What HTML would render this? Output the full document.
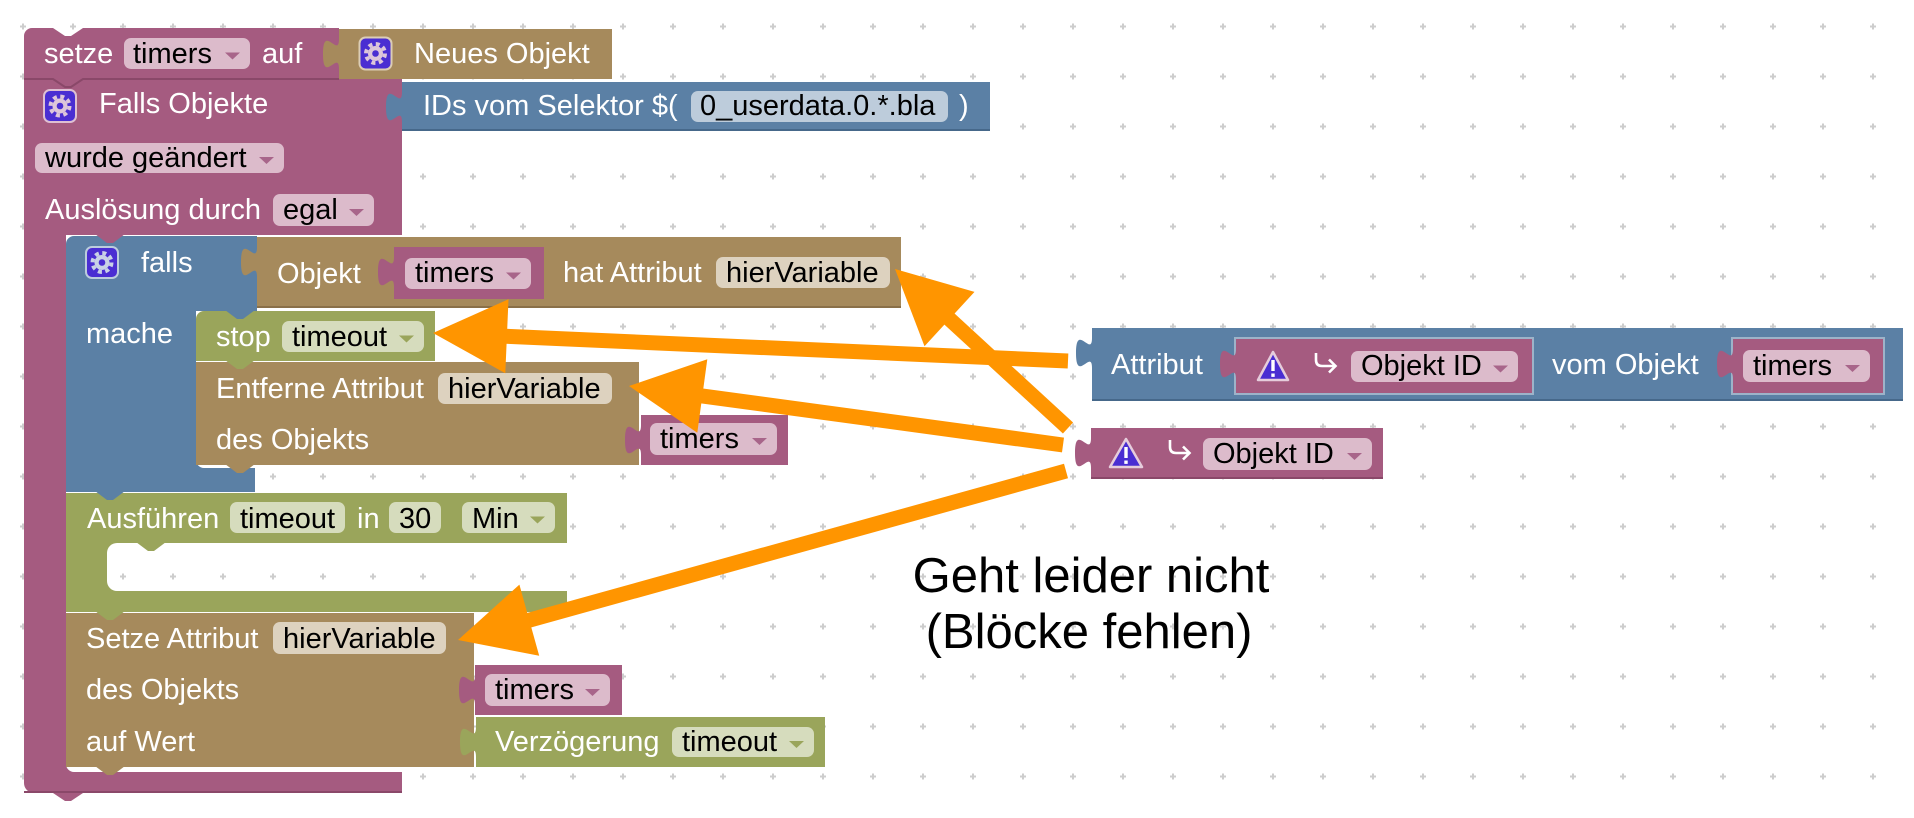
<!DOCTYPE html>
<html>
<head>
<meta charset="utf-8">
<style>
  html,body{margin:0;padding:0;background:#fff;}
  svg{display:block;}
  text{font-family:"Liberation Sans",Arial,sans-serif;font-size:29px;}
  .w{fill:#fff;}
  .k{fill:#000;}
  .cap{font-size:49px;fill:#000;}
</style>
</head>
<body>
<svg width="1914" height="818" viewBox="0 0 1914 818" xmlns="http://www.w3.org/2000/svg">
  <defs>
    <pattern id="grid" width="50" height="50" patternUnits="userSpaceOnUse">
      <rect x="20" y="25.5" width="6" height="2" fill="#cdcdcd"/>
      <rect x="22" y="23.5" width="2" height="6" fill="#cdcdcd"/>
    </pattern>
  </defs>
  <rect x="0" y="0" width="1914" height="818" fill="#fff"/>
  <rect x="0" y="0" width="1914" height="818" fill="url(#grid)"/>

  <!-- Pink event block B (Falls Objekte) -->
  <path d="M 24,79 H 402 V 235 H 66 V 764 A 8,8 0 0 0 74,772 H 402 V 793 H 83 L 71,801 H 65 L 53,793 H 34 A 10,10 0 0 1 24,783 Z" fill="#A55B80"/>
  <line x1="24" y1="792" x2="402" y2="792" stroke="#8A4869" stroke-width="2"/>

  <!-- Pink setze block A -->
  <path d="M 24,36 A 8,8 0 0 1 32,28 H 53 L 65,36 H 71 L 83,28 H 339 V 79 H 83 L 71,87 H 65 L 53,79 H 24 Z" fill="#A55B80"/>
  <path d="M 24,79 H 53 L 65,87 H 71 L 83,79 H 339" fill="none" stroke="#8A4869" stroke-width="2"/>

  <!-- Neues Objekt (brown) -->
  <path d="M 339,29 H 612 V 79 H 339 V 69 c 0,-20 -16,16 -16,-15 s 16,5 16,-15 Z" fill="#A68A5C"/>

  <!-- IDs vom Selektor (blue) -->
  <path d="M 402,82 H 990 V 131 H 402 V 122 c 0,-20 -16,16 -16,-15 s 16,5 16,-15 Z" fill="#5B80A5"/>
  <line x1="402" y1="130" x2="990" y2="130" stroke="#46688A" stroke-width="2"/>

  <!-- Blue falls block -->
  <path d="M 66,244 A 8,8 0 0 1 74,236 H 257 V 311 H 196 V 460 A 8,8 0 0 0 204,468 H 255 V 492 H 66 Z" fill="#5B80A5"/>

  <!-- Objekt ... hat Attribut (brown) -->
  <path d="M 257,237 H 901 V 308 H 257 V 277 c 0,-20 -16,16 -16,-15 s 16,5 16,-15 Z" fill="#A68A5C"/>
  <line x1="257" y1="307" x2="901" y2="307" stroke="#8A7049" stroke-width="2"/>
  <!-- inner pink timers -->
  <path d="M 394,247 H 544 V 299 H 394 V 287 c 0,-20 -16,16 -16,-15 s 16,5 16,-15 Z" fill="#A55B80"/>

  <!-- stop block (green) -->
  <path d="M 196,319 A 8,8 0 0 1 204,311 H 435 V 361 H 196 Z" fill="#9AA55B"/>
  <!-- Entferne block (brown) -->
  <path d="M 196,362 H 639 V 465 H 196 Z" fill="#A68A5C"/>
  <!-- pink timers -->
  <path d="M 641,415 H 788 V 465 H 641 V 455 c 0,-20 -16,16 -16,-15 s 16,5 16,-15 Z" fill="#A55B80"/>

  <!-- Ausführen block (green) -->
  <path d="M 66,493 H 567 V 543 H 117 A 10,10 0 0 0 107,553 V 581 A 10,10 0 0 0 117,591 H 567 V 612 H 66 Z" fill="#9AA55B"/>

  <!-- Setze Attribut (brown) -->
  <path d="M 66,613 H 474 V 767 H 66 Z" fill="#A68A5C"/>
  <!-- pink timers -->
  <path d="M 475,665 H 622 V 715 H 475 V 705 c 0,-20 -16,16 -16,-15 s 16,5 16,-15 Z" fill="#A55B80"/>
  <!-- Verzögerung green -->
  <path d="M 476,717 H 825 V 767 H 476 V 757 c 0,-20 -16,16 -16,-15 s 16,5 16,-15 Z" fill="#9AA55B"/>

  <!-- statement tabs -->
  <path d="M 95,234 L 107,243 H 113 L 125,234 Z" fill="#A55B80"/>
  <path d="M 225,310 L 237,319 H 243 L 255,310 Z" fill="#5B80A5"/>
  <path d="M 225,360 L 237,369 H 243 L 255,360 Z" fill="#9AA55B"/>
  <path d="M 225,464 L 237,473 H 243 L 255,464 Z" fill="#A68A5C"/>
  <path d="M 95,491 L 107,500 H 113 L 125,491 Z" fill="#5B80A5"/>
  <path d="M 136,542 L 148,551 H 154 L 166,542 Z" fill="#9AA55B"/>
  <path d="M 95,611 L 107,620 H 113 L 125,611 Z" fill="#9AA55B"/>
  <path d="M 95,766 L 107,775 H 113 L 125,766 Z" fill="#A68A5C"/>

  <!-- Attribut block (blue) -->
  <path d="M 1092,328 H 1903 V 401 H 1092 V 368 c 0,-20 -16,16 -16,-15 s 16,5 16,-15 Z" fill="#5B80A5"/>
  <line x1="1092" y1="400" x2="1903" y2="400" stroke="#46688A" stroke-width="2"/>
  <rect x="1235" y="338" width="298" height="56" fill="none" stroke="#9DB3C9" stroke-width="2"/>
  <path d="M 1236,339 H 1532 V 393 H 1236 V 379 c 0,-20 -16,16 -16,-15 s 16,5 16,-15 Z" fill="#A55B80"/>
  <rect x="1732" y="338" width="152" height="56" fill="none" stroke="#9DB3C9" stroke-width="2"/>
  <path d="M 1733,339 H 1883 V 393 H 1733 V 379 c 0,-20 -16,16 -16,-15 s 16,5 16,-15 Z" fill="#A55B80"/>

  <!-- standalone pink Objekt ID -->
  <path d="M 1091,428 H 1383 V 479 H 1091 V 468 c 0,-20 -16,16 -16,-15 s 16,5 16,-15 Z" fill="#A55B80"/>
  <line x1="1091" y1="478" x2="1383" y2="478" stroke="#8A4869" stroke-width="2"/>

  <!-- ===== Gear icons ===== -->
  <g>
    <rect x="44" y="90" width="32" height="32" rx="6" fill="#4A2ED2" stroke="#DEC0D2" stroke-width="2"/>
    <circle cx="60" cy="106" r="7.5" fill="#DDC6DA"/>
    <circle cx="60" cy="106" r="9.5" fill="none" stroke="#DDC6DA" stroke-width="4" stroke-dasharray="4 3.46"/>
    <circle cx="60" cy="106" r="3.3" fill="#4A2ED2"/>
  </g>
  <g>
    <rect x="359.5" y="37.5" width="32" height="32" rx="6" fill="#4A2ED2" stroke="#DCCDB5" stroke-width="2"/>
    <circle cx="375.5" cy="53.5" r="7.5" fill="#DDC6DA"/>
    <circle cx="375.5" cy="53.5" r="9.5" fill="none" stroke="#DDC6DA" stroke-width="4" stroke-dasharray="4 3.46"/>
    <circle cx="375.5" cy="53.5" r="3.3" fill="#4A2ED2"/>
  </g>
  <g>
    <rect x="86" y="247" width="32" height="31" rx="6" fill="#4A2ED2" stroke="#BCCCDD" stroke-width="2"/>
    <circle cx="102" cy="262.5" r="7.5" fill="#C9D2E6"/>
    <circle cx="102" cy="262.5" r="9.5" fill="none" stroke="#C9D2E6" stroke-width="4" stroke-dasharray="4 3.46"/>
    <circle cx="102" cy="262.5" r="3.3" fill="#4A2ED2"/>
  </g>

  <!-- ===== Warning triangles & hook arrows ===== -->
  <g>
    <path d="M 1273,352 L 1288,380 L 1258,380 Z" fill="#4A2ED2" stroke="#E6CDDC" stroke-width="2.5" stroke-linejoin="round"/>
    <rect x="1271.3" y="360" width="3.4" height="11" fill="#fff"/>
    <rect x="1271.3" y="373.5" width="3.4" height="3.4" fill="#fff"/>
    <path d="M 1316,353 V 360 Q 1316,366 1322,366 H 1335" fill="none" stroke="#fff" stroke-width="2.6"/>
    <path d="M 1329,359.5 L 1335.5,366 L 1329,372.5" fill="none" stroke="#fff" stroke-width="2.6"/>
  </g>
  <g>
    <path d="M 1126,439 L 1142,467 L 1110,467 Z" fill="#4A2ED2" stroke="#E6CDDC" stroke-width="2.5" stroke-linejoin="round"/>
    <rect x="1124.3" y="447" width="3.4" height="11" fill="#fff"/>
    <rect x="1124.3" y="460.5" width="3.4" height="3.4" fill="#fff"/>
    <path d="M 1170,440 V 447 Q 1170,453 1176,453 H 1189" fill="none" stroke="#fff" stroke-width="2.6"/>
    <path d="M 1183,446.5 L 1189.5,453 L 1183,459.5" fill="none" stroke="#fff" stroke-width="2.6"/>
  </g>

  <!-- ===== Fields ===== -->
  <!-- pink dropdowns -->
  <g fill="#DCBBCB">
    <rect x="124" y="38" width="126" height="31" rx="7"/>
    <rect x="35" y="143" width="249" height="30" rx="7"/>
    <rect x="273" y="194" width="101" height="32" rx="7"/>
    <rect x="405" y="258" width="126" height="31" rx="7"/>
    <rect x="650" y="423" width="127" height="32" rx="7"/>
    <rect x="485" y="674" width="125" height="32" rx="7"/>
    <rect x="1351" y="351" width="167" height="31" rx="7"/>
    <rect x="1743" y="350" width="127" height="32" rx="7"/>
    <rect x="1203" y="438" width="169" height="32" rx="7"/>
  </g>
  <g fill="#A8658A">
    <polygon points="225,52.5 240,52.5 232.5,59.5"/>
    <polygon points="259,157 274,157 266.5,164"/>
    <polygon points="349,209 364,209 356.5,216"/>
    <polygon points="506,272.5 521,272.5 513.5,279.5"/>
    <polygon points="752,438 767,438 759.5,445"/>
    <polygon points="585,689 600,689 592.5,696"/>
    <polygon points="1493,365.5 1508,365.5 1500.5,372.5"/>
    <polygon points="1845,365 1860,365 1852.5,372"/>
    <polygon points="1347,453 1362,453 1354.5,460"/>
  </g>
  <!-- blue field -->
  <rect x="691" y="91" width="257" height="31" rx="7" fill="#BDCCDB"/>
  <!-- brown fields -->
  <g fill="#DDD2BF">
    <rect x="716" y="257" width="174" height="31" rx="7"/>
    <rect x="438" y="373" width="174" height="31" rx="7"/>
    <rect x="273" y="622" width="173" height="32" rx="7"/>
  </g>
  <!-- green fields -->
  <g fill="#D6DCBD">
    <rect x="282" y="321" width="142" height="31" rx="7"/>
    <rect x="230" y="502" width="115" height="31" rx="7"/>
    <rect x="389" y="502" width="52" height="31" rx="7"/>
    <rect x="462" y="502" width="93" height="31" rx="7"/>
    <rect x="672" y="727" width="142" height="30" rx="7"/>
  </g>
  <g fill="#9AA55B">
    <polygon points="399,335.5 414,335.5 406.5,342.5"/>
    <polygon points="530,516.5 545,516.5 537.5,523.5"/>
    <polygon points="789,741 804,741 796.5,748"/>
  </g>

  <!-- ===== Labels (white) ===== -->
  <g class="w">
    <text x="44" y="63" class="w">setze</text>
    <text x="262" y="63" class="w">auf</text>
    <text x="414" y="63" class="w">Neues Objekt</text>
    <text x="99" y="113" class="w">Falls Objekte</text>
    <text x="45" y="219" class="w">Auslösung durch</text>
    <text x="423" y="115" class="w">IDs vom Selektor $(</text>
    <text x="959" y="115" class="w">)</text>
    <text x="141" y="272" class="w">falls</text>
    <text x="277" y="283" class="w">Objekt</text>
    <text x="563" y="282" class="w">hat Attribut</text>
    <text x="86" y="343" class="w">mache</text>
    <text x="216" y="346" class="w">stop</text>
    <text x="216" y="398" class="w">Entferne Attribut</text>
    <text x="216" y="449" class="w">des Objekts</text>
    <text x="87" y="528" class="w">Ausführen</text>
    <text x="357" y="528" class="w">in</text>
    <text x="86" y="648" class="w">Setze Attribut</text>
    <text x="86" y="699" class="w">des Objekts</text>
    <text x="86" y="751" class="w">auf Wert</text>
    <text x="495" y="751" class="w">Verzögerung</text>
    <text x="1111" y="374" class="w">Attribut</text>
    <text x="1552" y="374" class="w">vom Objekt</text>
  </g>

  <!-- ===== Field text (black) ===== -->
  <g class="k">
    <text x="133" y="63" class="k">timers</text>
    <text x="45" y="167" class="k">wurde geändert</text>
    <text x="283" y="219" class="k">egal</text>
    <text x="700" y="115" class="k">0_userdata.0.*.bla</text>
    <text x="415" y="282" class="k">timers</text>
    <text x="726" y="282" class="k">hierVariable</text>
    <text x="292" y="346" class="k">timeout</text>
    <text x="448" y="398" class="k">hierVariable</text>
    <text x="660" y="448" class="k">timers</text>
    <text x="240" y="528" class="k">timeout</text>
    <text x="399" y="528" class="k">30</text>
    <text x="472" y="528" class="k">Min</text>
    <text x="283" y="648" class="k">hierVariable</text>
    <text x="495" y="699" class="k">timers</text>
    <text x="682" y="751" class="k">timeout</text>
    <text x="1361" y="375" class="k">Objekt ID</text>
    <text x="1753" y="375" class="k">timers</text>
    <text x="1213" y="463" class="k">Objekt ID</text>
  </g>

  <!-- ===== Orange arrows ===== -->
  <g stroke="#FF9500" stroke-width="15" stroke-linecap="butt" fill="none">
    <line x1="1068" y1="361" x2="501.9" y2="336.1"/>
    <line x1="1068" y1="428" x2="945.8" y2="315.7"/>
    <line x1="1063" y1="445" x2="697.3" y2="395.3"/>
    <line x1="1066" y1="471" x2="524.5" y2="621.5"/>
  </g>
  <g fill="#FF9500">
    <polygon points="433,333 508.5,299.3 505.3,373.3"/>
    <polygon points="895,269 974.5,291.9 924.5,346.3"/>
    <polygon points="629,386 707.3,359.3 697.3,432.7"/>
    <polygon points="458,640 519.4,584.6 539.2,655.8"/>
  </g>

  <!-- ===== Caption ===== -->
  <text x="1091" y="592" text-anchor="middle" class="cap">Geht leider nicht</text>
  <text x="1089" y="648" text-anchor="middle" class="cap">(Blöcke fehlen)</text>
</svg>
</body>
</html>
